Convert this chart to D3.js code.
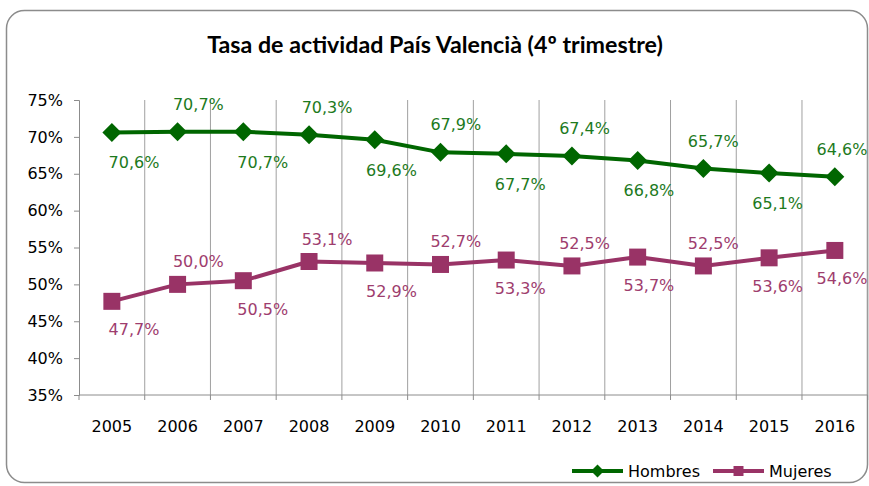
<!DOCTYPE html>
<html><head><meta charset="utf-8">
<script src="https://cdn.jsdelivr.net/npm/d3@7/dist/d3.min.js"></script>
<style>body{margin:0;background:#fff}svg{display:block}</style>
</head><body>
<svg id="c" width="869" height="486"></svg>
<script>
const years = ["2005","2006","2007","2008","2009","2010","2011","2012","2013","2014","2015","2016"];
const hombres = [70.6,70.7,70.7,70.3,69.6,67.9,67.7,67.4,66.8,65.7,65.1,64.6];
const mujeres = [47.7,50.0,50.5,53.1,52.9,52.7,53.3,52.5,53.7,52.5,53.6,54.6];
const yTicks = [35,40,45,50,55,60,65,70,75];
const seriesNames = ["Hombres","Mujeres"];
const chartTitle = "Tasa de actividad País Valencià (4º trimestre)";

const GREEN = "#006600", GREEN_TXT = "#1d7a1d";
const PURPLE = "#993366", PURPLE_TXT = "#9e3d6e";
const FONT = "DejaVu Sans";
const DIAMOND = r => `M0,${-r}L${r},0L0,${r}L${-r},0Z`;
const SQUARE = r => `M${-r},${-r}H${r}V${r}H${-r}Z`;

const svg = d3.select("#c");
svg.append("rect").attr("width",869).attr("height",486).attr("fill","#fff");
svg.append("rect").attr("x",6.5).attr("y",10.5).attr("width",861).attr("height",472)
  .attr("rx",18).attr("fill","#fff").attr("stroke","#8c8c8c").attr("stroke-width",1.5);

// title, fitted to the reference width
const t = svg.append("text").attr("x",435).attr("y",53).attr("text-anchor","middle")
  .attr("font-family","Lato").attr("font-weight","bold").attr("font-size",21)
  .attr("fill","#000").text(chartTitle);
const tw = t.node().getComputedTextLength();
t.attr("font-size", 21*456/tw);

const x = d3.scaleBand().domain(years).range([79, 867.7]).padding(0);
const y = d3.scaleLinear().domain([35,75]).range([395,100]);
const lx = d3.scalePoint().domain(years).range([134, 842]);
const cx = d => x(d) + x.bandwidth()/2;

// vertical gridlines at category boundaries
const bounds = d3.range(1, years.length+1).map(i => x.range()[0] + i*x.step());
svg.append("g").selectAll("line").data(bounds).join("line")
  .attr("x1",d=>d).attr("x2",d=>d).attr("y1",y(75)).attr("y2",y(35))
  .attr("stroke","#a0a0a0").attr("stroke-width",1);

// y axis
const ya = svg.append("g").attr("transform","translate(79,0)")
  .call(d3.axisLeft(y).tickValues(yTicks).tickFormat(d=>d+"%").tickSize(5).tickPadding(11));
ya.select(".domain").attr("stroke","#8c8c8c");
ya.selectAll(".tick line").attr("stroke","#8c8c8c");
ya.selectAll("text").attr("font-family",FONT).attr("font-size",16).attr("fill","#000");

// x axis
svg.append("line").attr("x1",79).attr("x2",867.7).attr("y1",y(35)).attr("y2",y(35)).attr("stroke","#8c8c8c");
svg.append("g").selectAll("line").data([x.range()[0]].concat(bounds)).join("line")
  .attr("x1",d=>d).attr("x2",d=>d).attr("y1",y(35)).attr("y2",y(35)+5).attr("stroke","#8c8c8c");
const xa = svg.append("g").attr("transform",`translate(0,${y(35)})`)
  .call(d3.axisBottom(x).tickSize(0).tickPadding(25.5));
xa.select(".domain").remove();
xa.selectAll("text").attr("font-family",FONT).attr("font-size",16).attr("fill","#000");

const fmt = v => d3.format(".1f")(v).replace(".",",") + "%";
const line = d3.line().x((d,i)=>cx(years[i])).y(d=>y(d));

function drawSeries(vals, color, txtColor, shape, up, down, lastBelow){
  const g = svg.append("g");
  g.append("path").datum(vals).attr("d",line).attr("fill","none")
    .attr("stroke",color).attr("stroke-width",4).attr("stroke-linejoin","round");
  g.selectAll("path.m").data(vals).join("path").attr("class","m")
    .attr("transform",(d,i)=>`translate(${cx(years[i])},${y(d)})`)
    .attr("d", shape).attr("fill",color);
  g.selectAll("text").data(vals).join("text")
    .attr("x",(d,i)=>lx(years[i]))
    .attr("y",(d,i)=>{
      const below = (i%2===0) || (lastBelow && i===vals.length-1);
      return y(d) + (below ? down : -up) + 6;
    })
    .attr("text-anchor","middle").attr("font-family",FONT).attr("font-size",16)
    .attr("fill",txtColor).text(d=>fmt(d));
}
drawSeries(hombres, GREEN, GREEN_TXT, DIAMOND(9.5), 28, 30, false);
drawSeries(mujeres, PURPLE, PURPLE_TXT, SQUARE(8.5), 23, 28, true);

// legend
const lg = svg.append("g").attr("font-family",FONT).attr("font-size",16);
const items = [
  {name: seriesNames[0], color: GREEN, x0: 572, shape: DIAMOND(6.5)},
  {name: seriesNames[1], color: PURPLE, x0: 713, shape: SQUARE(5)}
];
items.forEach(it=>{
  lg.append("line").attr("x1",it.x0).attr("x2",it.x0+51).attr("y1",471).attr("y2",471)
    .attr("stroke",it.color).attr("stroke-width",4);
  lg.append("path").attr("d",it.shape).attr("transform",`translate(${it.x0+25.5},471)`).attr("fill",it.color);
  lg.append("text").attr("x",it.x0+56).attr("y",477).attr("fill","#000").text(it.name);
});
</script>
</body></html>
